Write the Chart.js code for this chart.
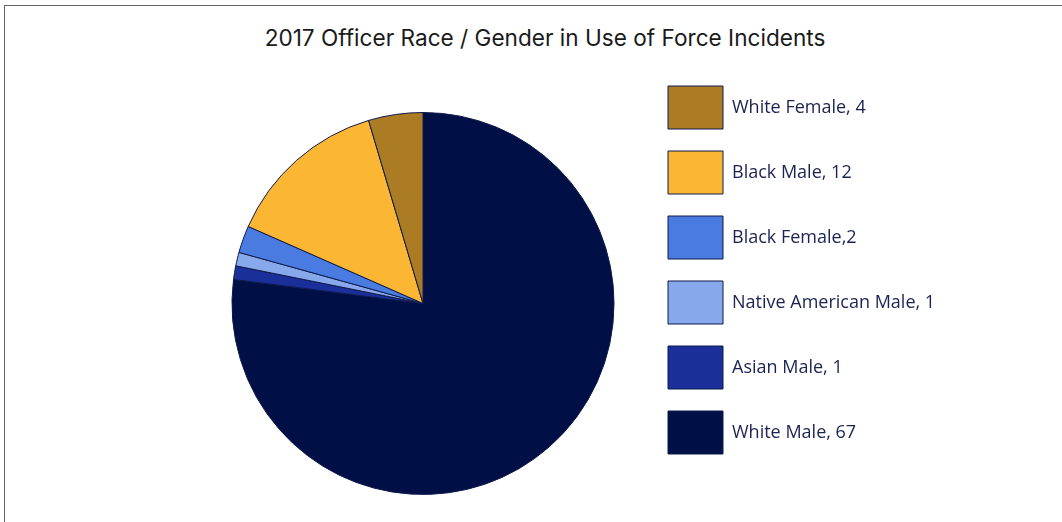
<!DOCTYPE html>
<html lang="en">
<head>
    <meta charset="UTF-8">
    <meta name="viewport" content="width=device-width, initial-scale=1.0">
    <script src="https://cdn.jsdelivr.net/npm/chart.js"></script>
    <title>Officer Race / Gender</title>
</head>
<style>
    body {
        margin: 0;
        overflow: hidden;
        background: #fff;
    }
    .frame {
        position: absolute;
        left: 4px;
        top: 5px;
        width: 1080px;
        height: 620px;
        border: 1px solid #666;
    }
    .frame h1 {
        margin: 0;
        position: absolute;
        top: 18px;
        width: 100%;
        text-align: center;
        font-family: Inter, sans-serif;
        font-weight: 400;
        font-size: 22.6px;
        color: #1a1a1a;
    }
    .chartBox {
        position: absolute;
        left: 0;
        top: 0;
        width: 1062px;
        height: 600px;
    }
</style>
<body>
    <div class="frame">
      <h1>2017 Officer Race / Gender in Use of Force Incidents</h1>
    </div>
    <div class="chartBox">
      <canvas id="pieChart" width="1062" height="600"></canvas>
    </div>
</body>
<script>
  // slices run clockwise from 12 o'clock
  const categories = ['White Male', 'Asian Male', 'Native American Male', 'Black Female', 'Black Male', 'White Female'];
  const counts = [67, 1, 1, 2, 12, 4];
  const separators = [', ', ', ', ', ', ',', ', ', ', '];
  const colors = ['#001046', '#1a2f9a', '#88a8ec', '#4a7be0', '#fbb733', '#ab7c24'];

  const legendLabels = categories.map((name, i) => name + separators[i] + counts[i]);

  // widen the legend box so the pie sits left of the page centre
  const legendBox = {
    id: 'legendBox',
    beforeInit(chart) {
      const fit = chart.legend.fit;
      chart.legend.fit = function () {
        fit.call(this);
        this.width = 416;
      };
    }
  };

  const pieData = {
    labels: legendLabels,
    datasets: [{
      label: 'Officers',
      data: counts,
      backgroundColor: colors,
      borderColor: '#0d1a4c',
      borderWidth: 1,
      radius: 191
    }]
  };

  const pieConfig = {
    type: 'pie',
    data: pieData,
    options: {
      responsive: false,
      animation: false,
      layout: {
        padding: { top: 64, bottom: 57, left: 200, right: 0 }
      },
      plugins: {
        legend: {
          position: 'right',
          align: 'start',
          reverse: true,
          labels: {
            boxWidth: 55,
            boxHeight: 43,
            padding: 22,
            color: '#1a2352',
            font: { family: "'Open Sans', sans-serif", size: 18 }
          }
        },
        tooltip: { enabled: false }
      }
    },
    plugins: [legendBox]
  };

  const pieChart = new Chart(
    document.getElementById('pieChart'),
    pieConfig
  );
</script>
</html>
